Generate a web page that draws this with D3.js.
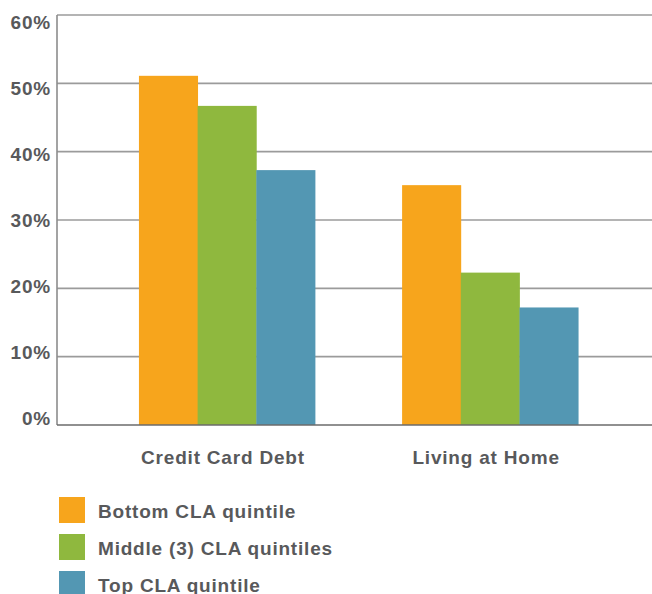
<!DOCTYPE html>
<html>
<head>
<meta charset="utf-8">
<script src="https://cdn.jsdelivr.net/npm/d3@7"></script>
<style>
  body { margin: 0; background: #fff; }
  text { font-family: "Liberation Sans", Arial, sans-serif; font-weight: bold; fill: #58595b; letter-spacing: 0.8px; }
</style>
</head>
<body>
<div id="main"></div>
<script>
// chart values
var categories = ["Credit Card Debt", "Living at Home"];
var seriesNames = ["Bottom CLA quintile", "Middle (3) CLA quintiles", "Top CLA quintile"];
var bottomVals = [0.511, 0.351];
var middleVals = [0.467, 0.223];
var topVals = [0.373, 0.172];
var tickVals = [0, 0.1, 0.2, 0.3, 0.4, 0.5, 0.6];
var colors = ["#f7a51c", "#8fb83e", "#5397b3"];

var width = 652, height = 594;
var margin = { top: 15, right: 0, bottom: 169, left: 57 };

var svg = d3.select("#main").append("svg")
  .attr("width", width)
  .attr("height", height);

var y = d3.scaleLinear()
  .domain([0, 0.6])
  .range([height - margin.bottom, margin.top]);

// labels in the original sit on a slightly tighter spacing than the grid
var yLabel = d3.scaleLinear()
  .domain([0, 0.6])
  .range([418.5, 22]);

var x0 = d3.scaleBand()
  .domain(categories)
  .range([margin.left, width - margin.right])
  .paddingInner(0.331)
  .paddingOuter(0.296)
  .align(0.526);

var x1 = d3.scaleBand()
  .domain(seriesNames)
  .range([0, x0.bandwidth()]);

var data = categories.map(function (c, i) {
  return { cat: c, vals: [bottomVals[i], middleVals[i], topVals[i]] };
});

// grid lines
svg.append("g")
  .selectAll("line")
  .data(tickVals.filter(function (d) { return d > 0; }))
  .enter().append("line")
  .attr("x1", margin.left)
  .attr("x2", width - margin.right)
  .attr("y1", function (d) { return y(d); })
  .attr("y2", function (d) { return y(d); })
  .attr("stroke", "#9b9b9b")
  .attr("stroke-width", 1.6);

// y labels
svg.append("g")
  .selectAll("text")
  .data(tickVals)
  .enter().append("text")
  .attr("x", 51)
  .attr("y", function (d) { return yLabel(d); })
  .attr("dy", "0.36em")
  .attr("text-anchor", "end")
  .style("font-size", "19px")
  .text(d3.format(".0%"));

// bars
var groups = svg.append("g")
  .selectAll("g")
  .data(data)
  .enter().append("g")
  .attr("transform", function (d) { return "translate(" + x0(d.cat) + ",0)"; });

groups.selectAll("rect")
  .data(function (d) { return d.vals.map(function (v, i) { return { key: seriesNames[i], v: v, i: i }; }); })
  .enter().append("rect")
  .attr("x", function (d) { return x1(d.key); })
  .attr("width", x1.bandwidth() + 0.4)
  .attr("y", function (d) { return y(d.v); })
  .attr("height", function (d) { return y(0) - y(d.v); })
  .attr("fill", function (d) { return colors[d.i]; });

// left axis and baseline
svg.append("line")
  .attr("x1", margin.left).attr("x2", margin.left)
  .attr("y1", y(0.6)).attr("y2", y(0))
  .attr("stroke", "#8c8c8c").attr("stroke-width", 1.6);
svg.append("line")
  .attr("x1", margin.left).attr("x2", width - margin.right)
  .attr("y1", y(0)).attr("y2", y(0))
  .attr("stroke", "#6b6b6b").attr("stroke-width", 1.6);

// category labels
svg.append("g")
  .selectAll("text")
  .data(categories)
  .enter().append("text")
  .attr("x", function (d) { return x0(d) + x0.bandwidth() / 2 - 4; })
  .attr("y", 464)
  .attr("text-anchor", "middle")
  .style("font-size", "19px")
  .text(function (d) { return d; });

// legend
var legend = svg.append("g")
  .selectAll("g")
  .data(seriesNames)
  .enter().append("g")
  .attr("transform", function (d, i) { return "translate(59," + (497 + i * 37) + ")"; });

legend.append("rect")
  .attr("width", 26)
  .attr("height", 26)
  .attr("fill", function (d, i) { return colors[i]; });

legend.append("text")
  .attr("x", 39)
  .attr("y", 20.5)
  .style("font-size", "19px")
  .text(function (d) { return d; });
</script>
</body>
</html>
